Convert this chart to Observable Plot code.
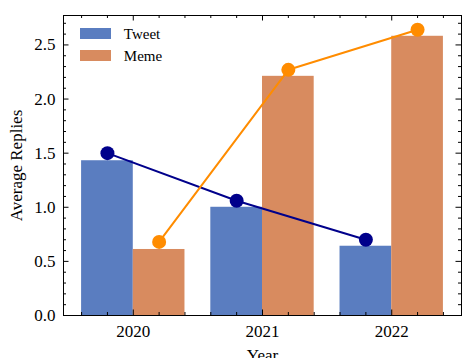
<!DOCTYPE html>
<html><head><meta charset="utf-8">
<script src="https://cdn.jsdelivr.net/npm/d3@7"></script>
<script src="https://cdn.jsdelivr.net/npm/@observablehq/plot@0.6"></script>
<style>
body{margin:0;background:#fff;}
#wrap{position:relative;width:462px;height:358px;overflow:hidden;font-family:"Liberation Serif","DejaVu Serif",serif;}
.sw{position:absolute;left:80px;width:31px;height:11px;}
</style></head><body><div id="wrap"></div>
<script>
const years = ["2020", "2021", "2022"];
const seriesNames = ["Tweet", "Meme"];
const tweetBars = [1.43, 1.00, 0.64];
const memeBars = [0.61, 2.21, 2.58];
const tweetLine = [1.50, 1.06, 0.70];
const memeLine = [0.68, 2.27, 2.64];
const yTickLabels = [0, 0.5, 1.0, 1.5, 2.0, 2.5];

const barColors = ["#5a7dc0", "#d88b5f"];
const lineColors = ["#00008b", "#ff8c00"];

const W = 462, H = 358, mL = 63, mR = 1, mT = 15, mB = 43;
const pw = W - mL - mR, ph = H - mT - mB;
const bw = 0.4;

const bars = [];
years.forEach((yr, i) => {
  bars.push({series: "Tweet", x1: i - bw, x2: i, value: tweetBars[i]});
  bars.push({series: "Meme", x1: i, x2: i + bw, value: memeBars[i]});
});
const tweetPts = years.map((yr, i) => ({x: i - bw / 2, value: tweetLine[i]}));
const memePts = years.map((yr, i) => ({x: i + bw / 2, value: memeLine[i]}));

const xMajor = years.map((d, i) => i);
const xMinor = d3.range(-2, 13).map(k => k / 5).filter(v => Math.abs(v - Math.round(v)) > 1e-6);
const yMajor = yTickLabels;
const yMinor = d3.range(0, 28).map(k => k / 10).filter((v, k) => k % 5 !== 0);

const MAJ = 5.5, MIN = 3;

const chart = Plot.plot({
  width: W, height: H,
  marginLeft: mL, marginRight: mR, marginTop: mT, marginBottom: mB,
  style: {fontFamily: "Liberation Serif, serif", fontSize: "17px", background: "white", color: "black"},
  x: {domain: [-0.54, 2.54]},
  y: {domain: [0, 2.772]},
  color: {domain: seriesNames, range: barColors},
  marks: [
    Plot.rectY(bars, {x1: "x1", x2: "x2", y1: 0, y2: "value", fill: "series"}),
    Plot.line(tweetPts, {x: "x", y: "value", stroke: lineColors[0], strokeWidth: 2}),
    Plot.dot(tweetPts, {x: "x", y: "value", r: 7, fill: lineColors[0]}),
    Plot.line(memePts, {x: "x", y: "value", stroke: lineColors[1], strokeWidth: 2}),
    Plot.dot(memePts, {x: "x", y: "value", r: 7, fill: lineColors[1]}),
    // inward ticks
    Plot.ruleX(xMajor, {x: d => d, insetTop: ph - MAJ, stroke: "black"}),
    Plot.ruleX(xMajor, {x: d => d, insetBottom: ph - MAJ, stroke: "black"}),
    Plot.ruleX(xMinor, {x: d => d, insetTop: ph - MIN, stroke: "black"}),
    Plot.ruleX(xMinor, {x: d => d, insetBottom: ph - MIN, stroke: "black"}),
    Plot.ruleY(yMajor, {y: d => d, insetRight: pw - MAJ, stroke: "black"}),
    Plot.ruleY(yMajor, {y: d => d, insetLeft: pw - MAJ, stroke: "black"}),
    Plot.ruleY(yMinor, {y: d => d, insetRight: pw - MIN, stroke: "black"}),
    Plot.ruleY(yMinor, {y: d => d, insetLeft: pw - MIN, stroke: "black"}),
    Plot.frame({stroke: "black", strokeWidth: 1}),
    Plot.axisX(xMajor, {tickSize: 0, tickPadding: 9, tickFormat: i => years[i], label: null, fontSize: 17}),
    Plot.axisY(yMajor, {tickSize: 0, tickPadding: 8, tickFormat: d3.format(".1f"), label: null, fontSize: 17}),
    Plot.text(["Average Replies"], {text: d => d, frameAnchor: "left", rotate: -90, dx: -41.5, lineAnchor: "bottom", textAnchor: "middle", fontSize: 17}),
    Plot.text(["Year"], {text: d => d, frameAnchor: "bottom", dy: 45, lineAnchor: "bottom", textAnchor: "middle", fontSize: 17}),
    Plot.text([seriesNames[0]], {text: d => d, frameAnchor: "top-left", dx: 60.3, dy: 23.3, lineAnchor: "bottom", textAnchor: "start", fontSize: 15}),
    Plot.text([seriesNames[1]], {text: d => d, frameAnchor: "top-left", dx: 60.3, dy: 45, lineAnchor: "bottom", textAnchor: "start", fontSize: 15})
  ]
});
const wrap = document.getElementById("wrap");
wrap.appendChild(chart);
seriesNames.forEach((s, i) => {
  const d = document.createElement("div");
  d.className = "sw";
  d.style.top = (i === 0 ? 28.3 : 50) + "px";
  d.style.background = barColors[i];
  wrap.appendChild(d);
});
</script></body></html>
